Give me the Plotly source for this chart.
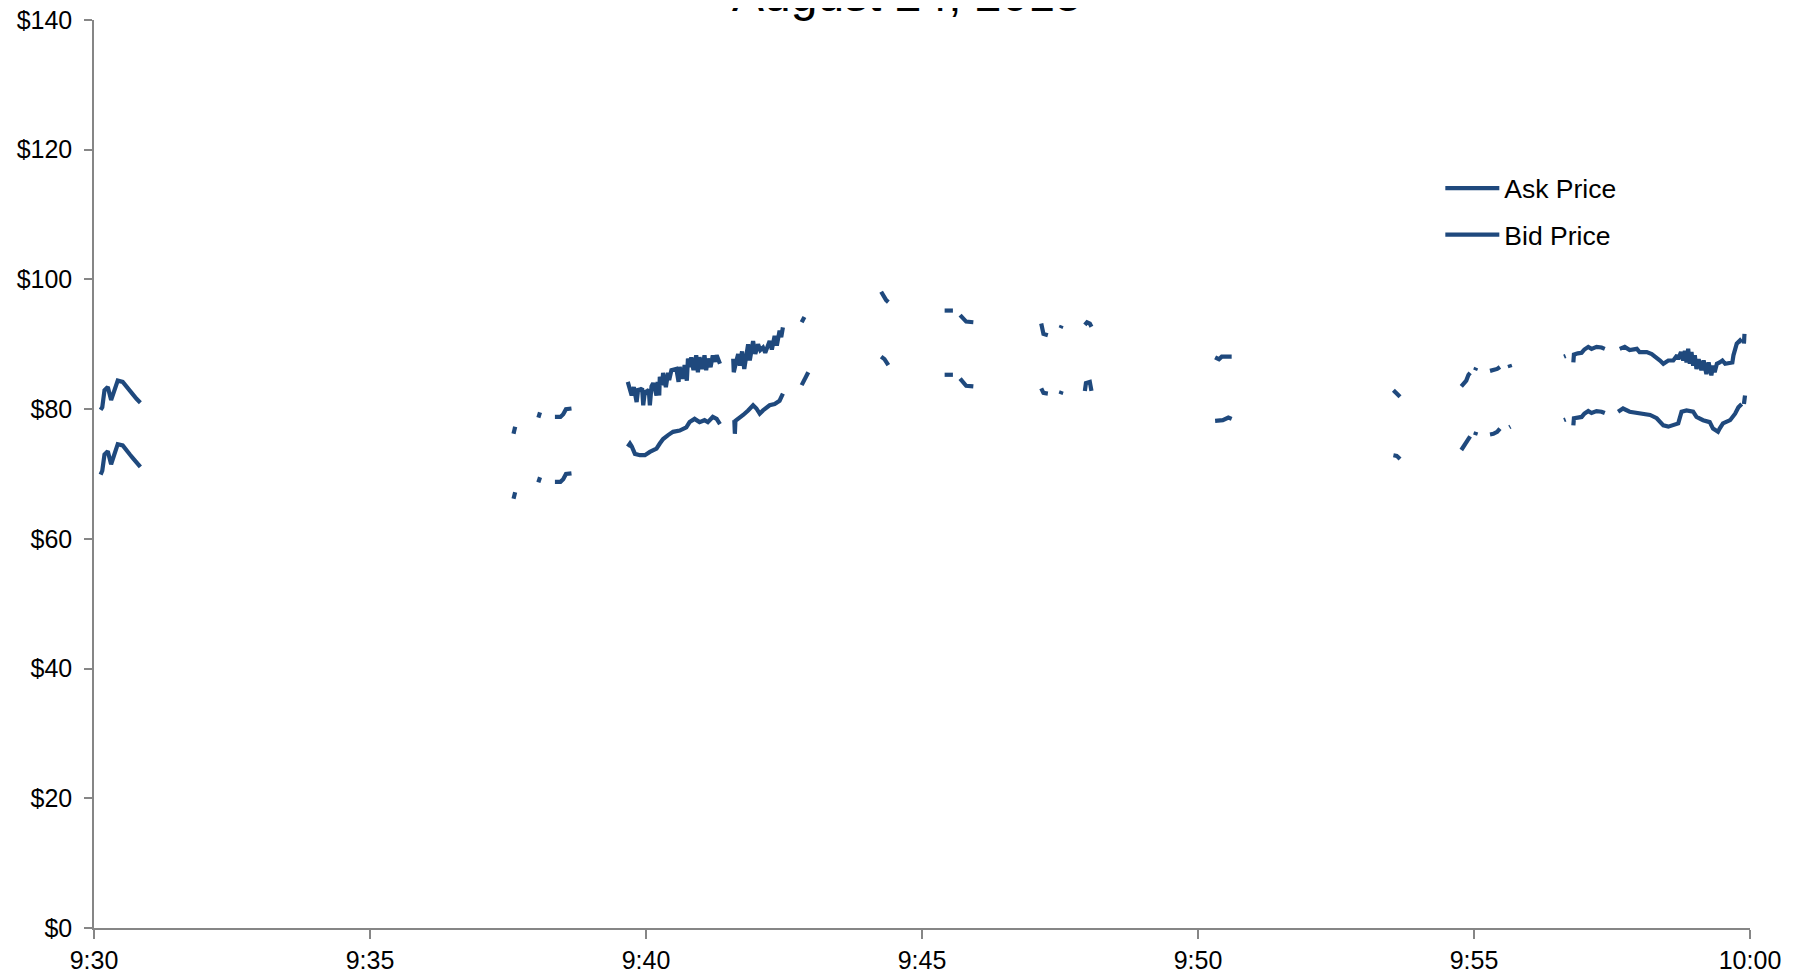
import pandas as pd
import plotly.graph_objects as go

# minutes after 9:30 open; None breaks the line
ask_minutes = [0.12, 0.15, 0.19, 0.25, 0.31, 0.37, 0.43, 0.52, 0.59, 0.65, 0.70, 0.77, 0.84, None,
               7.60, 7.63, None,
               8.05, 8.08, None,
               8.35, 8.45, 8.50, 8.55, 8.65, None,
               9.67, 9.72, 9.74, 9.78, 9.83, 9.86, 9.88, 9.93, 9.95, 9.98, 10.01, 10.05, 10.07, 10.10,
               10.13, 10.16, 10.19, 10.21, 10.24, 10.25, 10.29, 10.31, 10.36, 10.40, 10.42, 10.46,
               10.55, 10.59, 10.61, 10.66, 10.70, 10.74, 10.76, 10.80, 10.82, 10.86, 10.91, 10.94,
               10.97, 11.02, 11.06, 11.09, 11.12, 11.17, 11.21, 11.25, 11.28, 11.34, None,
               11.58, 11.59, 11.63, 11.67, 11.70, 11.74, 11.78, 11.82, 11.85, 11.88, 11.92, 11.94,
               11.98, 12.03, 12.07, 12.12, 12.16, 12.20, 12.24, 12.28, 12.33, 12.37, 12.42, 12.45, 12.48, None,
               12.82, 12.87, None,
               14.26, 14.30, 14.35, 14.39, None,
               15.41, 15.56, None,
               15.69, 15.75, 15.80, 15.93, None,
               17.16, 17.20, 17.28, None,
               17.51, 17.53, None,
               17.95, 17.99, 18.04, 18.07, None,
               20.31, 20.38, 20.43, 20.61, None,
               23.54, 23.60, 23.66, None,
               24.77, 24.83, 24.86, 24.90, 24.93, None,
               25.02, 25.04, None,
               25.29, 25.35, 25.42, 25.47, None,
               25.64, 25.66, None,
               26.63, 26.66, None,
               26.80, 26.81, 26.88, 26.95, 27.00, 27.07, 27.13, 27.22, 27.31, 27.37, None,
               27.64, 27.73, 27.82, 27.95, 28.00, 28.13, 28.22, 28.31, 28.37, 28.43, 28.52, 28.61,
               28.68, 28.70, 28.75, 28.79, 28.82, 28.85, 28.88, 28.91, 28.94, 28.97, 29.00, 29.03,
               29.07, 29.12, 29.16, 29.21, 29.25, 29.30, 29.33, 29.36, 29.40, 29.45, 29.50, 29.55,
               29.64, 29.68, 29.70, 29.76, 29.82, 29.85, None,
               29.89, 29.90]
ask_price = [79.9, 80.3, 82.9, 83.4, 81.4, 82.9, 84.4, 84.2, 83.4, 82.9, 82.4, 81.6, 81.0, None,
             76.2, 77.3, None,
             78.7, 79.5, None,
             78.8, 78.8, 79.2, 80.0, 80.1, None,
             84.2, 83.0, 82.1, 83.4, 81.1, 83.2, 82.9, 83.2, 80.6, 82.8, 82.6, 83.0, 80.6, 83.5,
             84.0, 83.2, 82.1, 84.2, 82.1, 85.0, 83.7, 85.6, 83.4, 85.6, 84.5, 86.0,
             86.2, 84.2, 86.5, 84.7, 86.8, 84.4, 87.8, 86.5, 88.0, 86.0, 88.3, 85.7,
             88.0, 86.2, 88.3, 86.0, 87.8, 86.5, 88.3, 87.3, 88.3, 87.0, None,
             87.8, 85.7, 87.2, 88.5, 86.7, 88.9, 86.2, 88.0, 90.0, 87.5, 89.5, 90.5,
             88.5, 90.0, 89.1, 89.5, 88.7, 89.8, 90.5, 89.2, 91.3, 89.8, 92.1, 91.1, 92.6, None,
             93.4, 94.2, None,
             98.1, 97.5, 96.8, 96.5, None,
             95.2, 95.2, None,
             94.5, 94.0, 93.5, 93.4, None,
             93.2, 91.6, 91.4, None,
             92.5, 92.9, None,
             93.0, 93.4, 93.2, 92.7, None,
             88.0, 87.7, 88.1, 88.1, None,
             82.9, 82.3, 81.9, None,
             83.5, 84.2, 84.4, 85.3, 85.6, None,
             86.0, 86.4, None,
             85.9, 86.0, 86.2, 86.5, None,
             86.9, 86.4, None,
             88.1, 88.2, None,
             87.2, 88.4, 88.6, 88.7, 89.2, 89.6, 89.3, 89.6, 89.5, 89.3, None,
             89.3, 89.6, 89.1, 89.3, 88.8, 88.8, 88.5, 88.0, 87.5, 87.0, 87.5, 87.5,
             88.3, 87.7, 88.8, 87.5, 89.0, 87.2, 89.3, 87.0, 88.8, 86.7, 88.3, 86.2,
             87.7, 86.0, 87.5, 85.4, 87.2, 85.2, 86.7, 85.7, 87.0, 87.2, 87.5, 87.0,
             87.2, 87.2, 88.3, 90.1, 90.6, 90.3, None,
             90.1, 91.6]

bid_minutes = [0.12, 0.15, 0.19, 0.25, 0.31, 0.37, 0.43, 0.52, 0.59, 0.65, 0.70, 0.77, 0.84, None,
               7.60, 7.63, None,
               8.05, 8.08, None,
               8.35, 8.45, 8.50, 8.55, 8.65, None,
               9.67, 9.71, 9.74, 9.80, 9.89, 9.98, 10.07, 10.13, 10.19, 10.25, 10.31, 10.40, 10.49,
               10.61, 10.73, 10.79, 10.88, 10.97, 11.06, 11.12, 11.21, 11.28, 11.34, None,
               11.60, 11.61, 11.62, 11.67, 11.76, 11.85, 11.94, 12.00, 12.06, 12.12, 12.24, 12.33,
               12.42, 12.48, None,
               12.82, 12.94, None,
               14.26, 14.32, 14.39, None,
               15.41, 15.56, None,
               15.69, 15.75, 15.80, 15.93, None,
               17.16, 17.20, 17.28, None,
               17.51, 17.53, None,
               17.95, 17.97, 18.04, 18.07, None,
               20.31, 20.45, 20.55, 20.61, None,
               23.54, 23.60, 23.66, None,
               24.77, 24.83, 24.87, 24.93, None,
               25.02, 25.04, None,
               25.29, 25.35, 25.42, 25.47, None,
               25.64, 25.66, None,
               26.63, 26.66, None,
               26.80, 26.81, 26.88, 26.95, 27.00, 27.07, 27.13, 27.22, 27.31, 27.37, None,
               27.61, 27.70, 27.82, 28.00, 28.19, 28.31, 28.43, 28.52, 28.61, 28.70, 28.76, 28.85,
               28.97, 29.03, 29.15, 29.27, 29.33, 29.42, 29.45, 29.51, 29.64, 29.73, 29.79, 29.85, None,
               29.89, 29.91]
bid_price = [69.9, 70.5, 73.0, 73.5, 71.5, 73.0, 74.6, 74.4, 73.5, 73.0, 72.5, 71.7, 71.1, None,
             66.2, 67.2, None,
             68.7, 69.5, None,
             68.8, 68.8, 69.2, 70.0, 70.1, None,
             74.2, 74.7, 74.3, 73.1, 72.9, 72.9, 73.4, 73.6, 73.9, 74.7, 75.4, 76.0, 76.5,
             76.7, 77.2, 78.0, 78.5, 78.0, 78.3, 78.0, 78.8, 78.5, 77.7, None,
             78.3, 76.2, 78.2, 78.5, 79.1, 79.8, 80.6, 80.1, 79.3, 79.8, 80.6, 80.8,
             81.3, 82.4, None,
             83.7, 85.7, None,
             88.1, 87.7, 86.8, None,
             85.3, 85.3, None,
             84.7, 84.0, 83.6, 83.5, None,
             83.2, 82.5, 82.4, None,
             82.3, 82.8, None,
             82.8, 84.0, 84.2, 82.8, None,
             78.2, 78.3, 78.7, 78.5, None,
             72.9, 72.8, 72.3, None,
             73.7, 74.5, 75.0, 75.8, None,
             76.0, 76.5, None,
             76.1, 76.2, 76.5, 77.0, None,
             77.2, 77.3, None,
             78.3, 78.4, None,
             77.5, 78.6, 78.7, 78.8, 79.3, 79.7, 79.4, 79.7, 79.6, 79.4, None,
             79.6, 80.1, 79.6, 79.3, 79.1, 78.6, 77.5, 77.3, 77.5, 77.8, 79.6, 79.8,
             79.6, 78.8, 78.3, 78.0, 77.0, 76.5, 77.0, 77.8, 78.3, 79.3, 80.3, 80.8, None,
             80.8, 82.1]

y_ticks = [0, 20, 40, 60, 80, 100, 120, 140]
y_tick_labels = ["$0", "$20", "$40", "$60", "$80", "$100", "$120", "$140"]
title_text = "August 24, 2015"
series_names = ["Ask Price", "Bid Price"]

OPEN = pd.Timestamp("2015-08-24 09:30:00")


def to_time(mins):
    return [None if m is None else OPEN + pd.Timedelta(minutes=m) for m in mins]


LINE = "#1f497d"
AXIS = "#868686"
FONT = "Liberation Sans, Arial, sans-serif"

fig = go.Figure()
fig.add_trace(go.Scatter(x=to_time(ask_minutes), y=ask_price, mode="lines", name=series_names[0],
                         legendgroup="a", line=dict(color=LINE, width=4.2), connectgaps=False))
fig.add_trace(go.Scatter(x=to_time(bid_minutes), y=bid_price, mode="lines", name=series_names[1],
                         legendgroup="b", line=dict(color=LINE, width=4.2), connectgaps=False))

fig.update_layout(
    width=1805, height=975,
    paper_bgcolor="white", plot_bgcolor="white",
    margin=dict(l=86, r=63, t=12, b=55, autoexpand=False),
    font=dict(family=FONT, size=25, color="black"),
    legend=dict(x=0.813, y=0.841, xanchor="left", yanchor="top", bgcolor="rgba(0,0,0,0)",
                font=dict(size=26.5, family=FONT), tracegroupgap=9, itemwidth=54,
                traceorder="grouped"),
    showlegend=True,
)
fig.add_annotation(text=title_text, xref="paper", yref="paper", x=0.4912, y=1.0282,
                   xanchor="center", yanchor="middle", showarrow=False,
                   font=dict(size=48, family=FONT, color="black"))

fig.update_xaxes(
    type="date",
    range=[OPEN, OPEN + pd.Timedelta(minutes=30)],
    tick0=OPEN, dtick=300000, tickformat="%-H:%M",
    showgrid=False, zeroline=False, automargin=False,
    showline=True, linecolor=AXIS, linewidth=2,
    ticks="outside", ticklen=9, tickwidth=1.5, tickcolor=AXIS,
    ticklabelstandoff=0, ticklabeloverflow="allow",
)
fig.update_yaxes(
    range=[0, 140], tickmode="array", tickvals=y_ticks, ticktext=y_tick_labels,
    showgrid=False, zeroline=False, automargin=False,
    showline=True, linecolor=AXIS, linewidth=1.5,
    ticks="outside", ticklen=8, tickwidth=1.5, tickcolor=AXIS,
    ticklabelstandoff=7, ticklabeloverflow="allow",
)

fig.write_html("out.html")
